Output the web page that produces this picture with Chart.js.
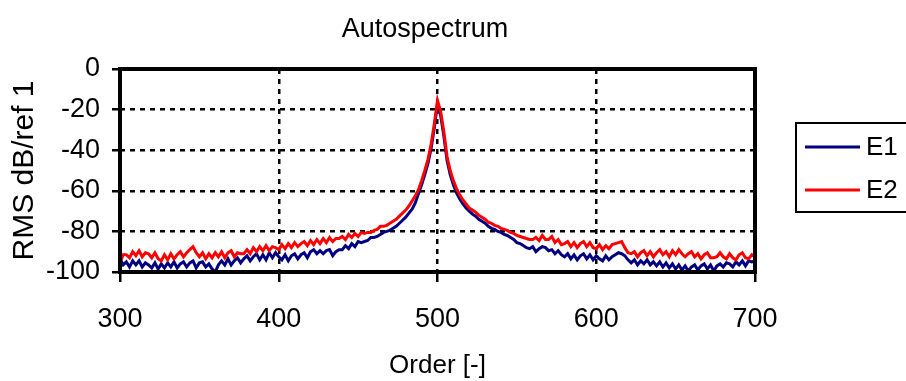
<!DOCTYPE html>
<html lang="en">
<head>
    <meta charset="UTF-8">
    <title>Autospectrum</title>
    <script src="https://cdn.jsdelivr.net/npm/chart.js"></script>
    <style>
        body {
            margin: 0;
            padding: 0;
            background: #fff;
        }
        canvas {
            display: block;
        }
    </style>
</head>
<body>
    <canvas id="spectrumChart" width="906" height="381"></canvas>

    <script>
        // Orders (x) - one sample every 2 orders
        const orders = [
            300, 302, 304, 306, 308, 310, 312, 314, 316, 318,
            320, 322, 324, 326, 328, 330, 332, 334, 336, 338,
            340, 342, 344, 346, 348, 350, 352, 354, 356, 358,
            360, 362, 364, 366, 368, 370, 372, 374, 376, 378,
            380, 382, 384, 386, 388, 390, 392, 394, 396, 398,
            400, 402, 404, 406, 408, 410, 412, 414, 416, 418,
            420, 422, 424, 426, 428, 430, 432, 434, 436, 438,
            440, 442, 444, 446, 448, 450, 452, 454, 456, 458,
            460, 462, 464, 466, 468, 470, 472, 474, 476, 478,
            480, 482, 484, 486, 488, 490, 492, 494, 496, 498,
            500, 502, 504, 506, 508, 510, 512, 514, 516, 518,
            520, 522, 524, 526, 528, 530, 532, 534, 536, 538,
            540, 542, 544, 546, 548, 550, 552, 554, 556, 558,
            560, 562, 564, 566, 568, 570, 572, 574, 576, 578,
            580, 582, 584, 586, 588, 590, 592, 594, 596, 598,
            600, 602, 604, 606, 608, 610, 612, 614, 616, 618,
            620, 622, 624, 626, 628, 630, 632, 634, 636, 638,
            640, 642, 644, 646, 648, 650, 652, 654, 656, 658,
            660, 662, 664, 666, 668, 670, 672, 674, 676, 678,
            680, 682, 684, 686, 688, 690, 692, 694, 696, 698,
            700
        ];

        // E1 (dB)
        const e1 = [
            -93.5, -96.5, -95, -97.5, -94.5, -96.5, -94.5, -97.5, -95.5, -96.5,
            -98, -95.5, -98.5, -96, -98, -95.5, -97.5, -95, -98, -96,
            -95, -97.5, -95.5, -94.5, -98, -95.5, -95, -97.5, -96, -98.5,
            -100, -96.5, -94.5, -96.5, -93.5, -96.5, -94.5, -93, -95.5, -93.5,
            -92, -94.5, -92.5, -91, -94, -91.5, -94, -90.5, -93, -90.5,
            -92.5, -94, -91.5, -94.5, -92, -91, -93.5, -91.5, -90.5, -93,
            -90, -89, -91, -89.5, -91, -89.5, -89, -92, -90, -89,
            -89, -87, -88.5, -86, -87.5, -85, -85.5, -85, -84.5, -83,
            -83, -82.5, -81.5, -80.5, -80, -79.5, -78.5, -77.5, -76, -74.5,
            -73, -71, -69, -66, -61.5, -57, -52, -46.5, -39, -29,
            -17, -23, -33, -45, -52, -57, -61, -64, -66.5, -68.5,
            -70, -71.5, -72.5, -74, -75, -76, -77.5, -78.5, -79, -80,
            -80.5, -81.5, -82, -83, -84, -85.5, -86, -87, -88, -88.5,
            -87.5, -90, -88.5, -87.5, -88, -89.5, -89, -91, -89.5, -91.5,
            -92.5, -91, -93.5, -91.5, -94, -92, -91, -93.5, -91.5, -94,
            -92, -93.5, -94.5, -92, -94, -92.5, -91.5, -90.5, -91, -92,
            -94, -95.5, -94, -96.5, -94.5, -96, -94, -96.5, -95, -97,
            -95, -97.5, -95.5, -98, -96, -98.5, -96.5, -99, -97, -99.5,
            -97.5, -96.5, -99, -97, -96, -98.5, -96.5, -99.5, -97, -96,
            -97.5, -95.5, -96, -97.5, -95, -96.5, -94.5, -97, -94.5, -95,
            -94.5
        ];

        // E2 (dB)
        const e2 = [
            -95.5, -91.5, -91.5, -93, -90, -92, -89.5, -92.5, -90.5, -91,
            -93, -90.5, -93.5, -94.5, -91.5, -94, -91, -93.5, -91.5, -90,
            -92.5, -90.5, -89, -87.5, -90.5, -92.5, -90.5, -93.5, -91, -93,
            -90.5, -92.5, -90, -93, -90.5, -89.5, -92.5, -90.5, -91, -91,
            -89, -91, -88, -90, -87.5, -89.5, -87, -89.5, -87.5, -88,
            -89, -86.5, -88.5, -86, -88, -85.5, -87.5, -86, -85, -87,
            -84.5, -86.5, -84, -86, -83.5, -85.5, -83, -85, -83.5, -83.5,
            -82.5, -84, -81.5, -83, -81, -82.5, -80.5, -81, -80.5, -80.5,
            -79.5, -79, -77.5, -77.5, -77, -76, -75, -74, -72.5, -71,
            -69.5, -67.5, -65, -62.5, -59.5, -55, -50, -44.5, -37, -27,
            -15.5, -21, -31, -43, -50, -55, -59, -62, -64.5, -66.5,
            -68.5, -69.5, -70.5, -72, -73, -74, -75.5, -76, -77, -77.5,
            -78.5, -79, -79.5, -80.5, -81, -82, -82.5, -83, -83.5, -84,
            -84, -83, -84.5, -82, -84, -84, -82.5, -85.5, -84, -86.5,
            -86, -85, -87.5, -85.5, -88, -86, -85, -87.5, -85.5, -88,
            -88.5, -86.5, -89, -87, -88.5, -86.5, -86, -85.5, -85, -88,
            -90.5, -91, -90, -92.5, -90.5, -89.5, -92, -90, -92.5, -90.5,
            -89, -91.5, -90, -92.5, -89.5, -91.5, -89, -91, -92.5, -91,
            -90, -92.5, -91, -93.5, -91.5, -90.5, -93, -93, -92.5, -90.5,
            -92.5, -93.5, -91, -93, -94, -91.5, -90.5, -93, -93.5, -91.5,
            -92.5
        ];

        const xTicks = [300, 400, 500, 600, 700];
        const yTicks = [-100, -80, -60, -40, -20, 0];
        const seriesNames = ['E1', 'E2'];
        const seriesColors = ['#000080', '#ff0000'];

        const FONT = "'Liberation Sans', Arial, sans-serif";

        // Frame, title and boxed legend like the original sheet chart
        const decorations = {
            id: 'decorations',
            afterDraw(chart) {
                const { ctx, chartArea } = chart;
                ctx.save();
                ctx.strokeStyle = '#000';
                ctx.lineWidth = 4;
                ctx.strokeRect(chartArea.left, chartArea.top,
                    chartArea.right - chartArea.left, chartArea.bottom - chartArea.top);

                ctx.fillStyle = '#000';
                ctx.font = '27px ' + FONT;
                ctx.textAlign = 'center';
                ctx.textBaseline = 'middle';
                ctx.fillText('Autospectrum', 425, 30);

                // legend
                ctx.lineWidth = 2;
                ctx.strokeRect(796, 123, 140, 89);
                const rows = [147, 190];
                ctx.textAlign = 'left';
                ctx.font = '26px ' + FONT;
                seriesNames.forEach((name, i) => {
                    ctx.strokeStyle = seriesColors[i];
                    ctx.lineWidth = 3;
                    ctx.beginPath();
                    ctx.moveTo(805, rows[i]);
                    ctx.lineTo(860, rows[i]);
                    ctx.stroke();
                    ctx.fillStyle = '#000';
                    ctx.fillText(name, 866, rows[i] + 1);
                });
                ctx.restore();
            }
        };

        const ctx = document.getElementById('spectrumChart').getContext('2d');
        new Chart(ctx, {
            type: 'line',
            data: {
                datasets: [
                    {
                        label: seriesNames[0],
                        data: orders.map((o, i) => ({ x: o, y: e1[i] })),
                        borderColor: seriesColors[0],
                        borderWidth: 3,
                        pointRadius: 0,
                        tension: 0,
                        order: 1
                    },
                    {
                        label: seriesNames[1],
                        data: orders.map((o, i) => ({ x: o, y: e2[i] })),
                        borderColor: seriesColors[1],
                        borderWidth: 3,
                        pointRadius: 0,
                        tension: 0,
                        order: 0
                    }
                ]
            },
            options: {
                responsive: false,
                animation: false,
                layout: {
                    padding: { top: 69, right: 151, left: 0, bottom: 0 }
                },
                plugins: {
                    legend: { display: false },
                    tooltip: { enabled: false },
                    title: { display: false }
                },
                scales: {
                    x: {
                        type: 'linear',
                        min: 300,
                        max: 700,
                        afterBuildTicks: s => { s.ticks = xTicks.map(v => ({ value: v })); },
                        afterFit: s => { s.height = 109; },
                        grid: {
                            color: '#000',
                            lineWidth: 2.5,
                            tickLength: 10,
                            tickWidth: 2.5,
                            tickBorderDash: []
                        },
                        border: { display: false, dash: [5, 5] },
                        ticks: {
                            color: '#000',
                            padding: 21,
                            maxRotation: 0,
                            font: { family: FONT, size: 27 }
                        },
                        title: {
                            display: true,
                            text: 'Order [-]',
                            color: '#000',
                            padding: { top: 0, bottom: 0 },
                            font: { family: FONT, size: 26 }
                        }
                    },
                    y: {
                        min: -100,
                        max: 0,
                        afterBuildTicks: s => { s.ticks = yTicks.map(v => ({ value: v })); },
                        afterFit: s => { s.width = 120; },
                        grid: {
                            color: '#000',
                            lineWidth: 2.5,
                            tickLength: 8,
                            tickWidth: 2.5,
                            tickBorderDash: []
                        },
                        border: { display: false, dash: [5, 5] },
                        ticks: {
                            color: '#000',
                            padding: 12,
                            font: { family: FONT, size: 27 }
                        },
                        title: {
                            display: true,
                            text: 'RMS dB/ref 1',
                            color: '#000',
                            padding: { top: 7, bottom: 0 },
                            font: { family: FONT, size: 30 }
                        }
                    }
                }
            },
            plugins: [decorations]
        });
    </script>
</body>
</html>
